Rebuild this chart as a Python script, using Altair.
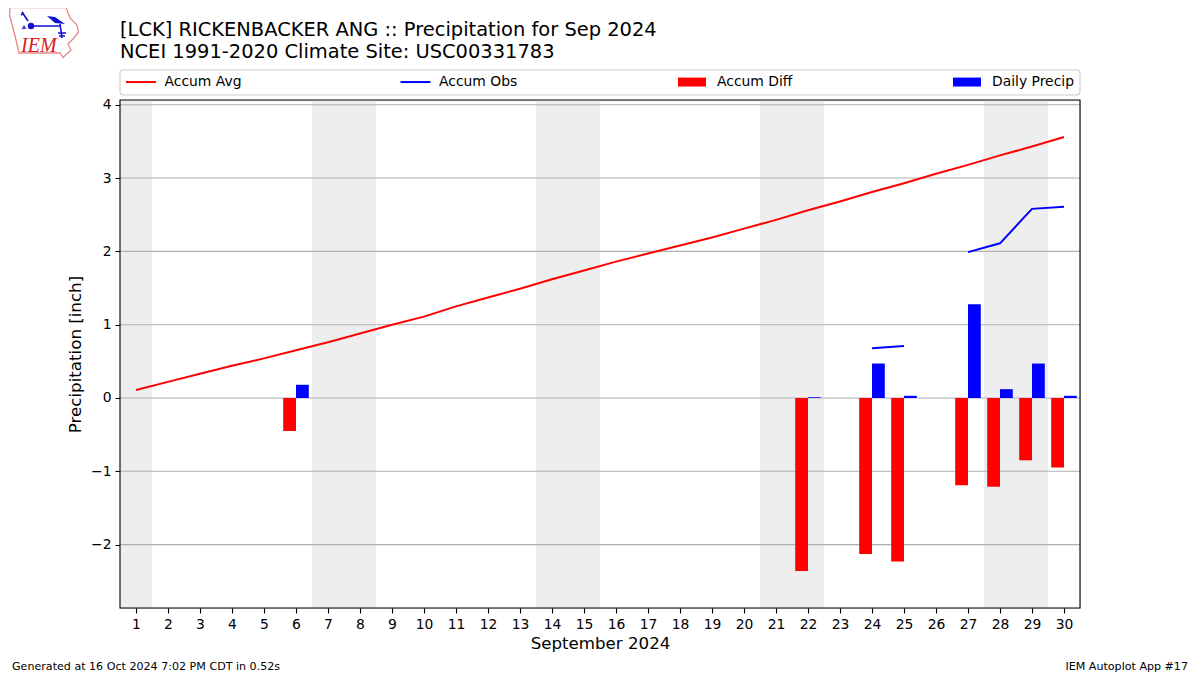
import urllib.parse
import altair as alt
import pandas as pd

TITLE_LINES = ["[LCK] RICKENBACKER ANG :: Precipitation for Sep 2024", "NCEI 1991-2020 Climate Site: USC00331783"]
X_TITLE = "September 2024"
Y_TITLE = "Precipitation [inch]"
FOOT_LEFT = "Generated at 16 Oct 2024 7:02 PM CDT in 0.52s"
FOOT_RIGHT = "IEM Autoplot App #17"
FONT = "DejaVu Sans"

days = list(range(1, 31))
accum_avg = [0.11, 0.22, 0.33, 0.44, 0.54, 0.65, 0.76, 0.88, 1.00, 1.11,
             1.25, 1.37, 1.49, 1.62, 1.74, 1.86, 1.97, 2.08, 2.19, 2.31,
             2.43, 2.56, 2.68, 2.81, 2.93, 3.06, 3.18, 3.31, 3.43, 3.56]
accum_obs = [None] * 23 + [0.68, 0.71, None, 1.99, 2.11, 2.58, 2.61]
diff_days = [6, 22, 24, 25, 27, 28, 29, 30]
accum_diff = [-0.45, -2.36, -2.13, -2.23, -1.19, -1.21, -0.85, -0.95]
daily_precip = [0.18, 0.01, 0.47, 0.03, 1.28, 0.12, 0.47, 0.03]
band_first = [1, 7, 14, 21, 28]
band_last = [1, 8, 15, 22, 29]
y_ticks = [-2, -1, 0, 1, 2, 3, 4]
grid_values = [-2, -1, 0, 1, 2, 3, 4]

x_scale = alt.Scale(domain=[0.5, 30.5], nice=False, zero=False)
y_scale = alt.Scale(domain=[-2.865, 4.065], nice=False, zero=False)
common_axis = dict(domain=False, grid=False, tickColor="black", tickSize=5, tickWidth=1.1,
                   labelColor="black", labelFont=FONT, labelFontSize=13.9, titleFont=FONT,
                   titleFontSize=16.67, titleFontWeight="normal", titleColor="black",
                   labelOverlap=False, labelFlush=False)
x_axis = alt.Axis(values=days, format="d", title=X_TITLE, labelAngle=0, titlePadding=5, labelPadding=4, **common_axis)
y_axis = alt.Axis(values=y_ticks, format="d", title=Y_TITLE, titlePadding=6, labelPadding=4, **common_axis)

bands_df = pd.DataFrame({"first": band_first, "last": band_last})
bands = alt.Chart(bands_df).transform_calculate(x0="datum.first - 0.5", x1="datum.last + 0.5").mark_rect(
    color="#eeeeee").encode(
    x=alt.X("x0:Q", scale=x_scale, axis=x_axis), x2="x1:Q")

grid = alt.Chart(pd.DataFrame({"g": grid_values})).mark_rule(color="#b0b0b0", strokeWidth=1.1).encode(
    y=alt.Y("g:Q", scale=y_scale, axis=y_axis))

bar_df = pd.concat([
    pd.DataFrame({"day": diff_days, "value": accum_diff, "series": "Accum Diff"}),
    pd.DataFrame({"day": diff_days, "value": daily_precip, "series": "Daily Precip"}),
])
bar_legend = alt.Legend(orient="none", legendX=558, legendY=-32, columns=2, columnPadding=160, title=None,
                        symbolType="M-1,-0.32H1V0.32H-1Z", symbolSize=784, symbolStrokeWidth=0, labelOffset=11,
                        labelFont=FONT, labelFontSize=13.9, labelColor="black", zindex=1, padding=0,
                        direction="horizontal")
bars = alt.Chart(bar_df).transform_calculate(
    x0="datum.series == 'Accum Diff' ? datum.day - 0.4 : datum.day",
    x1="datum.series == 'Accum Diff' ? datum.day : datum.day + 0.4",
    base="0").mark_rect().encode(
    x=alt.X("x0:Q", scale=x_scale, axis=x_axis), x2="x1:Q",
    y=alt.Y("value:Q", scale=y_scale, axis=y_axis), y2="base:Q",
    color=alt.Color("series:N", scale=alt.Scale(domain=["Accum Diff", "Daily Precip"], range=["#ff0000", "#0000ff"]),
                    legend=bar_legend))

line_df = pd.concat([
    pd.DataFrame({"day": days, "value": accum_avg, "series": "Accum Avg"}),
    pd.DataFrame({"day": days, "value": accum_obs, "series": "Accum Obs"}),
])
line_legend = alt.Legend(orient="none", legendX=5, legendY=-34, columns=2, columnPadding=154.5, title=None,
                         symbolType="stroke", symbolSize=900, symbolStrokeWidth=2, labelOffset=7.5,
                         labelFont=FONT, labelFontSize=13.9, labelColor="black", zindex=1, padding=0,
                         direction="horizontal")
lines = alt.Chart(line_df).mark_line(strokeWidth=2).encode(
    x=alt.X("day:Q", scale=x_scale, axis=x_axis),
    y=alt.Y("value:Q", scale=y_scale, axis=y_axis),
    color=alt.Color("series:N", scale=alt.Scale(domain=["Accum Avg", "Accum Obs"], range=["#ff0000", "#0000ff"]),
                    legend=line_legend),
    detail="series:N")

one = pd.DataFrame({"k": [0]})
frame = alt.Chart(one).mark_rect(fillOpacity=0, stroke="black", strokeWidth=1.1).encode(
    x=alt.value(0), x2=alt.value(960), y=alt.value(0), y2=alt.value(508))
legend_box = alt.Chart(one).mark_rect(fillOpacity=0, stroke="#cccccc", strokeWidth=1.1, cornerRadius=3).encode(
    x=alt.value(0), x2=alt.value(960), y=alt.value(-30), y2=alt.value(-5))
foot_l = alt.Chart(pd.DataFrame({"t": [FOOT_LEFT]})).mark_text(
    font=FONT, fontSize=11.1, align="left", baseline="middle", color="black").encode(
    text="t:N", x=alt.value(-108), y=alt.value(567))
foot_r = alt.Chart(pd.DataFrame({"t": [FOOT_RIGHT]})).mark_text(
    font=FONT, fontSize=11.1, align="right", baseline="middle", color="black").encode(
    text="t:N", x=alt.value(1068), y=alt.value(567))

logo_svg = """<svg xmlns='http://www.w3.org/2000/svg' width='85' height='60' viewBox='0 0 85 60'>
<path d='M10 7.5 L66 7.5 L70 18 L77 25 L78.5 32 L73 39 L68 44 L71 50 L63 57.5 L60 53 L19 53 L16 40 L12.5 26 L9.5 15 Z' fill='none' stroke='#e48a8a' stroke-width='1.3'/>
<path d='M31 26 L60 26 M60 24 L62 38 M22 12 L28 21 M21 15 L24 13 M58 33 L66 33 M59 36 L65 36' fill='none' stroke='#1010d0' stroke-width='1.6'/>
<path d='M47 16 L55 17 L65 24 L55 23 Z' fill='#1010d0'/>
<circle cx='31' cy='26' r='3.2' fill='#1010d0'/>
<path d='M24 25 L26.5 29 L21.5 29 Z' fill='#4040d8'/>
<text x='21' y='52' font-family='Liberation Serif' font-style='italic' font-size='20' fill='#d82020'>IEM</text>
</svg>"""
logo = alt.Chart(one).mark_image(
    url="data:image/svg+xml;utf8," + urllib.parse.quote(logo_svg), width=85, height=60,
    align="left", baseline="top").encode(x=alt.value(-120), y=alt.value(-100))

chart = alt.layer(bands, grid, bars, lines, frame, legend_box, foot_l, foot_r, logo).resolve_scale(color="independent").properties(
    width=960, height=508,
    padding={"left": 112, "top": 92, "right": 112, "bottom": 67},
    autosize=alt.AutoSizeParams(type="none"),
    title=alt.TitleParams(text=TITLE_LINES, anchor="start", frame="group", font=FONT, fontSize=19.44,
                          fontWeight="normal", color="black", lineHeight=22, offset=-62),
).configure_view(strokeWidth=0).configure(background="white")

chart.save("out.html", embed_options={"renderer": "svg", "actions": False})
